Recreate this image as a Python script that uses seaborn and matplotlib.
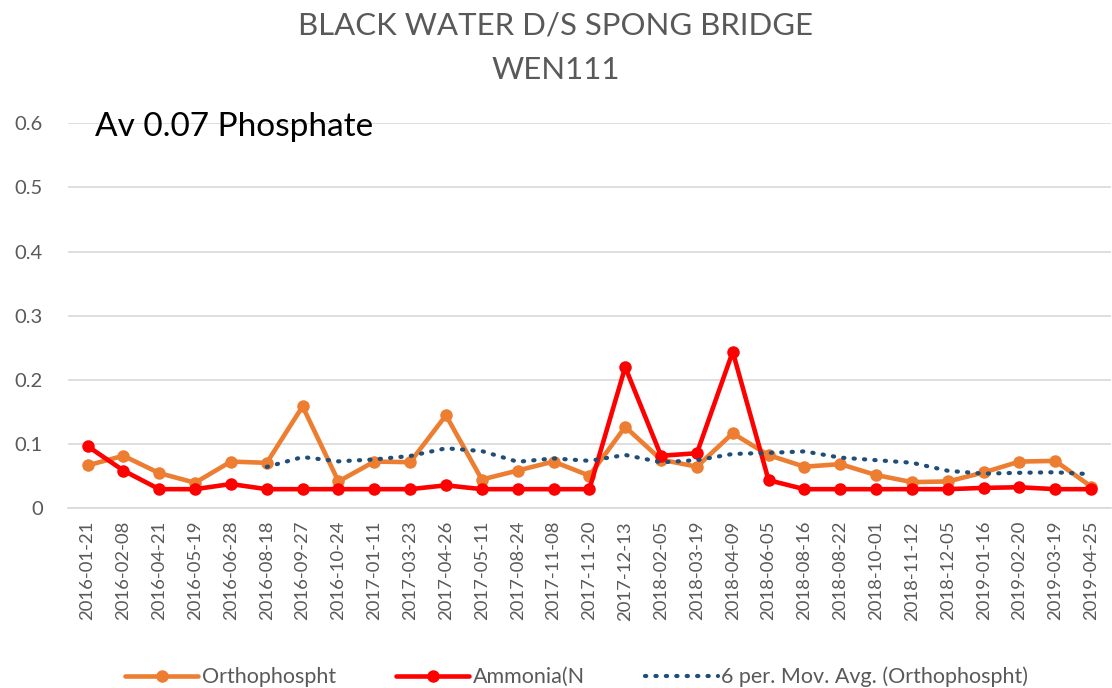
import matplotlib
matplotlib.use("Agg")
import matplotlib.pyplot as plt
import seaborn as sns
import pandas as pd
import numpy as np

dates = [
    "2016-01-21", "2016-02-08", "2016-04-21", "2016-05-19", "2016-06-28",
    "2016-08-18", "2016-09-27", "2016-10-24", "2017-01-11", "2017-03-23",
    "2017-04-26", "2017-05-11", "2017-08-24", "2017-11-08", "2017-11-20",
    "2017-12-13", "2018-02-05", "2018-03-19", "2018-04-09", "2018-06-05",
    "2018-08-16", "2018-08-22", "2018-10-01", "2018-11-12", "2018-12-05",
    "2019-01-16", "2019-02-20", "2019-03-19", "2019-04-25",
]
ortho = [
    0.067, 0.082, 0.055, 0.040, 0.073, 0.071, 0.159, 0.042, 0.073, 0.072,
    0.145, 0.045, 0.059, 0.073, 0.051, 0.127, 0.076, 0.065, 0.117, 0.083,
    0.065, 0.069, 0.052, 0.041, 0.042, 0.056, 0.073, 0.074, 0.034,
]
ammonia = [
    0.097, 0.059, 0.030, 0.030, 0.038, 0.030, 0.030, 0.030, 0.030, 0.030,
    0.036, 0.030, 0.030, 0.030, 0.030, 0.220, 0.082, 0.086, 0.244, 0.044,
    0.030, 0.030, 0.030, 0.030, 0.030, 0.032, 0.033, 0.030, 0.030,
]

ORANGE = "#ED7D31"
RED = "#FF0000"
NAVY = "#1F4E79"
GREY = "#595959"

sns.set_theme(style="white")
plt.rcParams["font.family"] = ["Lato", "DejaVu Sans"]

df = pd.DataFrame({"pos": np.arange(len(dates)), "date": dates,
                   "ortho": ortho, "ammonia": ammonia})
df["mavg"] = df["ortho"].rolling(6).mean()

fig, ax = plt.subplots(figsize=(11.12, 6.88), dpi=100)
fig.subplots_adjust(left=0.061, right=0.999, top=0.821, bottom=0.261)

sns.lineplot(data=df, x="pos", y="ortho", ax=ax, color=ORANGE, linewidth=3.3,
             marker="o", markersize=9, markeredgewidth=0, label="Orthophospht",
             zorder=3)
sns.lineplot(data=df, x="pos", y="ammonia", ax=ax, color=RED, linewidth=3.3,
             marker="o", markersize=9, markeredgewidth=0, label="Ammonia(N",
             zorder=4)
sns.lineplot(data=df.dropna(), x="pos", y="mavg", ax=ax, color=NAVY,
             linewidth=3, linestyle=(0, (0.3, 2.2)), dash_capstyle="round",
             label="6 per. Mov. Avg. (Orthophospht)", zorder=5)

ax.set_xlim(-0.55, len(dates) - 0.45)
ax.set_ylim(0, 0.6)
ax.set_yticks(np.arange(0, 0.61, 0.1))
ax.set_yticklabels(["0", "0.1", "0.2", "0.3", "0.4", "0.5", "0.6"])
ax.set_xticks(df["pos"])
ax.set_xticklabels(dates, rotation=90)
ax.tick_params(axis="x", labelsize=13.3, colors=GREY, length=0, pad=9)
ax.tick_params(axis="y", labelsize=14.5, colors=GREY, length=0, pad=18)
ax.set_xlabel("")
ax.set_ylabel("")
ax.grid(axis="y", color="#D9D9D9", linewidth=1.2)
ax.set_axisbelow(True)
for s in ["top", "right", "left"]:
    ax.spines[s].set_visible(False)
ax.spines["bottom"].set_color("#D9D9D9")
ax.spines["bottom"].set_linewidth(1.2)

fig.suptitle("BLACK WATER D/S SPONG BRIDGE\nWEN111", fontsize=22.4,
             color=GREY, y=0.984, linespacing=1.75)
ax.text(0.026, 0.99, "Av 0.07 Phosphate", transform=ax.transAxes,
        fontsize=24, color="black", va="center", ha="left")

leg = ax.legend(loc="upper center", bbox_to_anchor=(0.488, -0.36), ncol=3,
                frameon=False, fontsize=15.5, handlelength=3.4,
                columnspacing=2.8, handletextpad=0.15)
for t in leg.get_texts():
    t.set_color(GREY)

fig.savefig("out.png", dpi=100)
